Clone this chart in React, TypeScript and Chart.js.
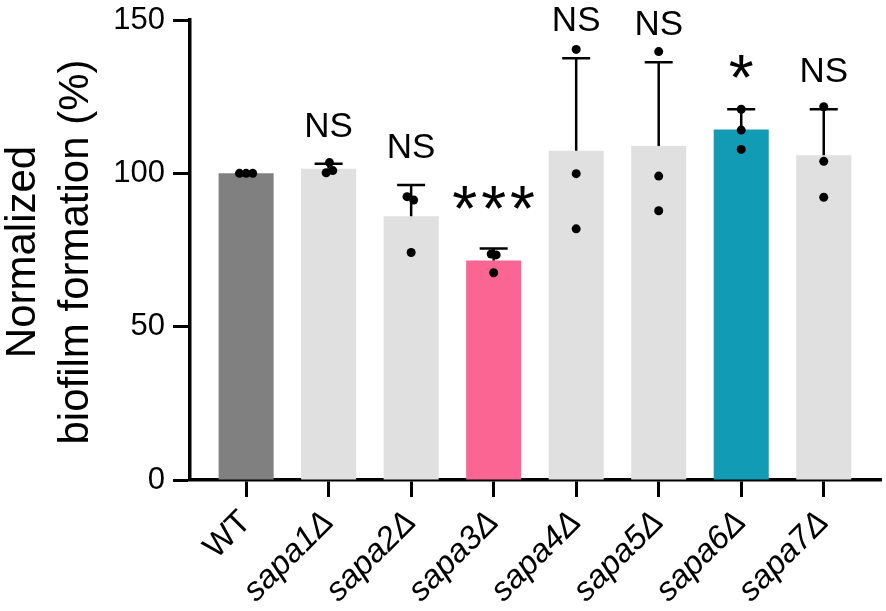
import { useEffect, useRef } from 'react';
import { Chart, registerables } from 'chart.js';

Chart.register(...registerables);

// chart values
const categories = ['WT', 'sapa1Δ', 'sapa2Δ', 'sapa3Δ', 'sapa4Δ', 'sapa5Δ', 'sapa6Δ', 'sapa7Δ'];
const meanValues = [100, 101.5, 86, 71.6, 107.4, 108.9, 114.3, 105.9];
const sdValues = [0, 1.6, 10.2, 3.9, 30.1, 27.3, 6.6, 15.0];
const replicates = [
  [100, 100, 100],
  [103.5, 100.9, 100.2],
  [92.4, 91.3, 74.2],
  [73.7, 73.4, 67.6],
  [140.4, 99.9, 81.9],
  [139.7, 99.1, 87.8],
  [120.9, 114.1, 107.8],
  [121.7, 103.9, 92.2],
];
const significance = ['', 'NS', 'NS', '***', 'NS', 'NS', '*', 'NS'];
const yTicks = [0, 50, 100, 150];
const yTitle = ['Normalized', 'biofilm formation (%)'];

// small horizontal spread of the replicate dots (in category units)
const dotSpread = [
  [-0.08, 0, 0.08],
  [0.01, 0.05, -0.03],
  [-0.05, 0.03, 0],
  [-0.03, 0.03, 0],
  [0, 0, 0],
  [0, 0, 0],
  [0, 0, 0],
  [0, 0, 0],
];

const barColors = ['#808080', '#e0e0e0', '#e0e0e0', '#fa6594', '#e0e0e0', '#e0e0e0', '#129bb5', '#e0e0e0'];

const FONT = '"Liberation Sans", Arial, Helvetica, sans-serif';

// error bars (mean + SD), significance marks and the two-line y title
const decorations = {
  id: 'decorations',
  afterDatasetDraw(chart: any, args: any) {
    if (args.index !== 0) return;
    const { ctx, scales } = chart;
    const x = scales.x;
    const y = scales.y;
    ctx.save();
    ctx.strokeStyle = '#000';
    ctx.lineWidth = 2.5;
    meanValues.forEach((m, i) => {
      if (!sdValues[i]) return;
      const px = x.getPixelForValue(i);
      const top = y.getPixelForValue(m + sdValues[i]);
      ctx.beginPath();
      ctx.moveTo(px, y.getPixelForValue(m));
      ctx.lineTo(px, top);
      ctx.moveTo(px - 14, top);
      ctx.lineTo(px + 14, top);
      ctx.stroke();
    });
    ctx.restore();
  },
  afterDraw(chart: any) {
    const { ctx, scales, chartArea } = chart;
    const x = scales.x;
    const y = scales.y;
    ctx.save();
    ctx.fillStyle = '#000';
    ctx.textAlign = 'center';
    ctx.textBaseline = 'alphabetic';
    significance.forEach((s, i) => {
      if (!s) return;
      const px = x.getPixelForValue(i);
      if (s.startsWith('*')) {
        const barTop = y.getPixelForValue(meanValues[i]);
        ctx.font = `64px ${FONT}`;
        (ctx as any).letterSpacing = '4px';
        ctx.fillText(s, px + 2, barTop - 29);
        (ctx as any).letterSpacing = '0px';
      } else {
        const top = y.getPixelForValue(meanValues[i] + sdValues[i]);
        ctx.font = `35px ${FONT}`;
        ctx.fillText(s, px, top - 27);
      }
    });

    const cy = (chartArea.top + chartArea.bottom) / 2 + 2;
    ctx.font = `42px ${FONT}`;
    const baselines = [35, 88];
    yTitle.forEach((t, i) => {
      ctx.save();
      ctx.translate(baselines[i], cy);
      ctx.rotate(-Math.PI / 2);
      ctx.fillText(t, 0, 0);
      ctx.restore();
    });
    ctx.restore();
  },
};

function App() {
  const chartRef = useRef<HTMLCanvasElement>(null);
  const chartInstance = useRef<Chart | null>(null);

  useEffect(() => {
    if (!chartRef.current) return;
    const ctx = chartRef.current.getContext('2d');
    if (!ctx) return;
    if (chartInstance.current) chartInstance.current.destroy();

    const dots: { x: number; y: number }[] = [];
    replicates.forEach((vals, i) => {
      vals.forEach((v, j) => dots.push({ x: i + dotSpread[i][j], y: v }));
    });

    chartInstance.current = new Chart(ctx, {
      type: 'bar',
      data: {
        datasets: [
          {
            type: 'bar',
            data: meanValues.map((v, i) => ({ x: i, y: v })) as any,
            backgroundColor: barColors,
            borderWidth: 0,
            categoryPercentage: 1,
            barPercentage: 0.667,
            order: 2,
          },
          {
            type: 'scatter',
            data: dots as any,
            pointRadius: 4.5,
            pointBackgroundColor: '#000',
            pointBorderWidth: 0,
            order: 1,
          } as any,
        ],
      },
      options: {
        animation: false,
        responsive: true,
        maintainAspectRatio: false,
        layout: { padding: { top: 20, right: 4, left: 0, bottom: 0 } },
        plugins: {
          legend: { display: false },
          tooltip: { enabled: false },
        },
        scales: {
          x: {
            type: 'linear',
            min: -0.68,
            max: 7.7,
            offset: false,
            z: 1,
            afterBuildTicks: (scale: any) => {
              scale.ticks = categories.map((_, i) => ({ value: i }));
            },
            afterFit: (scale: any) => {
              scale.height = 131;
            },
            border: { display: true, color: '#000', width: 3.5 },
            grid: {
              display: true,
              offset: false,
              drawOnChartArea: false,
              drawTicks: true,
              tickLength: 17,
              tickWidth: 3,
              tickColor: '#000',
            },
            ticks: {
              autoSkip: false,
              maxRotation: 45,
              minRotation: 45,
              padding: 6,
              color: '#000',
              font: (c: any) => ({
                family: FONT,
                size: 33,
                style: c.index === 0 ? 'normal' : 'italic',
              }),
              callback: (v: any) => categories[v] ?? '',
            },
          },
          y: {
            type: 'linear',
            min: 0,
            max: 150,
            z: 1,
            afterBuildTicks: (scale: any) => {
              scale.ticks = yTicks.map((v) => ({ value: v }));
            },
            afterFit: (scale: any) => {
              scale.width = 190;
              scale.paddingTop = 0;
              scale.paddingBottom = 0;
            },
            border: { display: true, color: '#000', width: 3.5 },
            grid: {
              display: true,
              drawOnChartArea: false,
              drawTicks: true,
              tickLength: 17,
              tickWidth: 3,
              tickColor: '#000',
            },
            ticks: {
              padding: 8,
              color: '#000',
              font: { family: FONT, size: 31 },
            },
          },
        },
      },
      plugins: [decorations],
    });

    return () => {
      if (chartInstance.current) {
        chartInstance.current.destroy();
        chartInstance.current = null;
      }
    };
  }, []);

  return (
    <div style={{ position: 'fixed', left: 0, top: 0, width: 886, height: 611, background: '#fff' }}>
      <canvas ref={chartRef}></canvas>
    </div>
  );
}

export default App;
